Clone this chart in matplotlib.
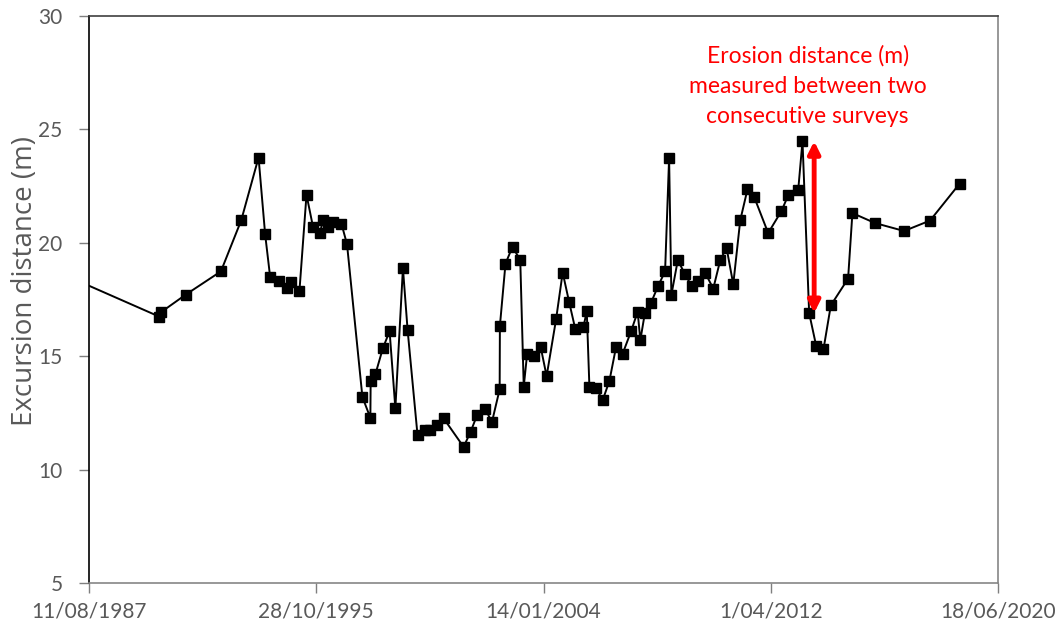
import pandas as pd
import matplotlib.pyplot as plt
import matplotlib.dates as mdates
from matplotlib.ticker import FuncFormatter

plt.rcParams['font.family'] = ['Lato', 'DejaVu Sans']

# Survey dates and measured excursion distance (m)
survey_dates = [
    '1986-03-15', '1990-02-26', '1990-03-18', '1991-02-10', '1992-05-17',
    '1993-02-09', '1993-09-26', '1993-12-22', '1994-02-26', '1994-06-17',
    '1994-09-30', '1994-11-22', '1995-03-20', '1995-06-21', '1995-09-16',
    '1995-12-13', '1996-01-25', '1996-04-01', '1996-06-05', '1996-09-24',
    '1996-12-07', '1997-06-28', '1997-10-11', '1997-10-15', '1997-12-16',
    '1998-03-26', '1998-06-22', '1998-09-06', '1998-12-15', '1999-02-15',
    '1999-06-26', '1999-09-27', '1999-12-11', '2000-03-07', '2000-06-04',
    '2001-02-23', '2001-05-26', '2001-08-22', '2001-12-07', '2002-03-03',
    '2002-06-14', '2002-06-17', '2002-08-30', '2002-12-01', '2003-03-13',
    '2003-04-28', '2003-06-12', '2003-09-07', '2003-12-07', '2004-02-24',
    '2004-06-28', '2004-09-23', '2004-12-17', '2005-03-07', '2005-06-24',
    '2005-08-07', '2005-09-11', '2005-12-08', '2006-03-05', '2006-06-02',
    '2006-08-29', '2006-11-24', '2007-03-15', '2007-06-10', '2007-07-15',
    '2007-09-13', '2007-12-03', '2008-03-05', '2008-06-06', '2008-07-29',
    '2008-08-28', '2008-11-21', '2009-02-24', '2009-05-22', '2009-08-18',
    '2009-11-15', '2010-03-04', '2010-06-04', '2010-08-26', '2010-11-23',
    '2011-02-23', '2011-05-30', '2011-08-26', '2012-02-27', '2012-08-20',
    '2012-11-21', '2013-03-29', '2013-05-25', '2013-08-21', '2013-11-22',
    '2014-02-26', '2014-06-03', '2015-01-17', '2015-03-15', '2016-01-08',
    '2017-01-25', '2018-01-03', '2019-01-29',
]
excursion = [
    18.86, 16.74, 16.94, 17.72, 18.74,
    20.99, 23.76, 20.37, 18.49, 18.33,
    18.01, 18.26, 17.89, 22.12, 20.68,
    20.41, 20.99, 20.70, 20.93, 20.85,
    19.93, 13.20, 12.28, 13.91, 14.20,
    15.36, 16.10, 12.70, 18.88, 16.14,
    11.51, 11.73, 11.73, 11.98, 12.26,
    11.00, 11.66, 12.42, 12.68, 12.08,
    13.54, 16.33, 19.08, 19.83, 19.23,
    13.66, 15.11, 14.99, 15.41, 14.12,
    16.63, 18.69, 17.39, 16.22, 16.29,
    16.98, 13.64, 13.60, 13.06, 13.91,
    15.41, 15.11, 16.10, 16.96, 15.70,
    16.90, 17.35, 18.09, 18.74, 23.73,
    17.70, 19.24, 18.61, 18.10, 18.30,
    18.69, 17.98, 19.23, 19.79, 18.17,
    20.99, 22.36, 22.02, 20.43, 21.40,
    22.12, 22.31, 24.48, 16.90, 15.45,
    15.30, 17.24, 18.42, 21.31, 20.87,
    20.52, 20.98, 22.61,
]

tick_dates = ['1987-08-11', '1995-10-28', '2004-01-14', '2012-04-01', '2020-06-18']
y_ticks = [5, 10, 15, 20, 25, 30]

# erosion between two consecutive surveys
arrow_date = '2013-10-26'
erosion_top = 24.48
erosion_bottom = 16.90

df = pd.DataFrame({'date': pd.to_datetime(survey_dates), 'dist': excursion})
ticks = pd.to_datetime(tick_dates)

grey = '#595959'

fig = plt.figure(figsize=(10.6, 6.28), dpi=100)
ax = fig.add_axes([0.084, 0.0717, 0.8575, 0.9028])

ax.plot(df['date'], df['dist'], color='black', lw=1.4, marker='s',
        markersize=7.5, markerfacecolor='black', markeredgecolor='black')

ax.set_xlim(ticks[0], ticks[-1])
ax.set_ylim(5, 30)
ax.set_xticks(ticks)
ax.set_yticks(y_ticks)
ax.xaxis.set_major_formatter(FuncFormatter(
    lambda v, pos: (lambda d: f"{d.day}/{d:%m/%Y}")(mdates.num2date(v))))

ax.tick_params(axis='both', direction='out', length=7, width=1,
               color='#7f7f7f', labelcolor=grey, labelsize=15)
ax.tick_params(axis='x', pad=6)
ax.tick_params(axis='y', pad=12)

ax.set_ylabel('Excursion distance (m)', fontsize=20, color=grey, va='center',
              family=['Open Sans', 'DejaVu Sans'])
ax.yaxis.set_label_coords(-0.07, 0.533)

for side, col in [('left', 'black'), ('top', '#404040'),
                  ('bottom', '#868686'), ('right', '#868686')]:
    ax.spines[side].set_color(col)
    ax.spines[side].set_linewidth(1.2)

# double-headed arrow showing the erosion distance
ad = pd.to_datetime(arrow_date)
ax.annotate('', xy=(ad, erosion_top), xytext=(ad, erosion_bottom),
            arrowprops=dict(arrowstyle='<|-|>,head_length=0.7,head_width=0.35',
                            color='red', lw=3.5, shrinkA=0, shrinkB=0))

ax.text(pd.to_datetime('2013-08-01'), 26.92,
        'Erosion distance (m)\nmeasured between two\nconsecutive surveys',
        color='red', fontsize=16.5, ha='center', va='center', linespacing=1.55)

fig.savefig('out.png', dpi=100)
